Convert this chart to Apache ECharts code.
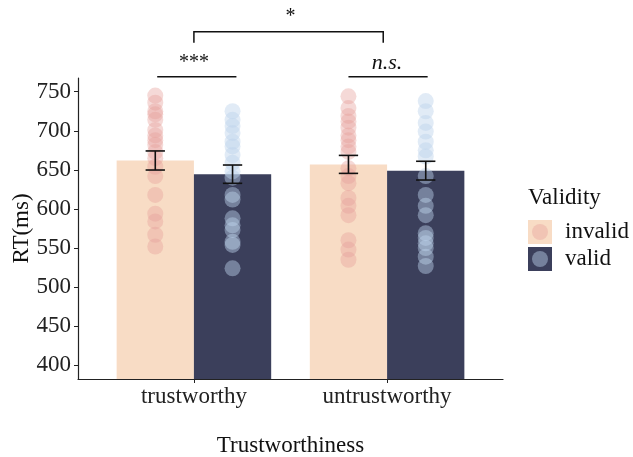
<!DOCTYPE html>
<html>
<head>
<meta charset="utf-8">
<script src="https://cdn.jsdelivr.net/npm/echarts@6/dist/echarts.min.js"></script>
<style>
html,body{margin:0;padding:0;background:#fff;}
#main{width:633px;height:457px;}
</style>
</head>
<body>
<div id="main"></div>
<script>
var categories = ['trustworthy', 'untrustworthy'];
var catPos = [1, 2];
var groups = ['invalid', 'valid'];

var meanInvalid = [662, 657];
var meanValid = [644.5, 649];
var seInvalid = [12.2, 11.5];
var seValid = [11.7, 12];

// individual RTs
var rtTrustInvalid = [745, 736, 725, 721, 714, 701, 694, 688, 682, 673, 665, 654, 642, 618, 594, 584, 567, 552];
var rtTrustValid = [725, 714, 706, 697, 686, 680, 669, 659, 648, 640, 618, 612, 588, 579, 573, 558, 554, 524];
var rtUntrustInvalid = [744, 729, 719, 712, 704, 694, 688, 680, 673, 652, 642, 633, 614, 604, 592, 560, 548, 535];
var rtUntrustValid = [738, 725, 710, 699, 686, 675, 667, 642, 618, 604, 592, 569, 563, 556, 550, 539, 527];

var yTicks = [400, 450, 500, 550, 600, 650, 700, 750];

var COLOR = {
	BAR_INVALID: '#F8DCC5',
	BAR_VALID: '#3B3F5B',
	DOT_INVALID: '#E6A09B',
	DOT_VALID: '#BDD3EC'
};
var FONT = 'Liberation Serif';
var yMin = 382.5, yMax = 767.5;
var dodge = 0.2;

function barData(means, side){
	var out = [];
	for (var i = 0; i < catPos.length; i++) out.push([catPos[i] + side * dodge, means[i]]);
	return out;
}
function errData(means, se, side){
	var out = [];
	for (var i = 0; i < catPos.length; i++) out.push([catPos[i] + side * dodge, means[i] - se[i], means[i] + se[i]]);
	return out;
}
function dotData(x, vals){
	return vals.map(function(v){ return [x, v]; });
}

function renderBar(params, api){
	var x = api.value(0), v = api.value(1);
	var lt = api.coord([x - dodge, v]);
	var rb = api.coord([x + dodge, yMin]);
	return {
		type: 'rect',
		shape: {x: lt[0], y: lt[1], width: rb[0] - lt[0], height: rb[1] - lt[1]},
		style: {fill: api.visual('color')}
	};
}

function renderErr(params, api){
	var x = api.value(0);
	var lo = api.coord([x, api.value(1)]);
	var hi = api.coord([x, api.value(2)]);
	var half = api.size([0.05, 0])[0];
	var st = {stroke: '#111', lineWidth: 1.6};
	return {
		type: 'group',
		children: [
			{type: 'line', shape: {x1: lo[0], y1: lo[1], x2: hi[0], y2: hi[1]}, style: st},
			{type: 'line', shape: {x1: lo[0] - half, y1: lo[1], x2: lo[0] + half, y2: lo[1]}, style: st},
			{type: 'line', shape: {x1: hi[0] - half, y1: hi[1], x2: hi[0] + half, y2: hi[1]}, style: st}
		]
	};
}

var myChart = echarts.init(document.getElementById('main'));
myChart.setOption({
	animation: false,
	textStyle: {fontFamily: FONT},
	title: {
		text: 'Validity',
		left: 528,
		top: 186,
		padding: 0,
		textStyle: {fontFamily: FONT, fontSize: 23, fontWeight: 'normal', color: '#111'}
	},
	legend: [
		{
			orient: 'vertical',
			left: 528,
			top: 220,
			padding: 0,
			icon: 'rect',
			itemWidth: 24,
			itemHeight: 24,
			itemGap: 3,
			selectedMode: false,
			textStyle: {fontFamily: FONT, fontSize: 23, color: '#111', padding: [0, 0, 0, 8]},
			data: [
				{name: 'invalid', itemStyle: {color: COLOR.BAR_INVALID}},
				{name: 'valid', itemStyle: {color: COLOR.BAR_VALID}}
			]
		},
		{
			orient: 'vertical',
			left: 532,
			top: 224,
			padding: 0,
			icon: 'circle',
			itemWidth: 16,
			itemHeight: 16,
			itemGap: 11,
			selectedMode: false,
			formatter: function(){ return ''; },
			textStyle: {fontSize: 8},
			data: [
				{name: 'invalid', itemStyle: {color: COLOR.DOT_INVALID, opacity: 0.4}},
				{name: 'valid', itemStyle: {color: COLOR.DOT_VALID, opacity: 0.45}}
			]
		}
	],
	grid: {left: 78, right: 130, top: 78, bottom: 78, containLabel: false, outerBoundsMode: 'none'},
	xAxis: {
		type: 'value',
		min: 0.4,
		max: 2.6,
		name: 'Trustworthiness',
		nameLocation: 'middle',
		nameGap: 55,
		nameMoveOverlap: false,
		nameTextStyle: {fontFamily: FONT, fontSize: 23, color: '#111'},
		axisLine: {show: true, lineStyle: {color: '#222', width: 1.2}},
		axisTick: {show: true, length: 4, customValues: catPos, lineStyle: {color: '#222'}},
		axisLabel: {
			customValues: catPos,
			margin: 6,
			fontFamily: FONT,
			fontSize: 23,
			color: '#222',
			formatter: function(v){ return categories[catPos.indexOf(v)] || ''; }
		},
		splitLine: {show: false}
	},
	yAxis: {
		type: 'value',
		min: yMin,
		max: yMax,
		name: 'RT(ms)',
		nameLocation: 'middle',
		nameGap: 45,
		nameMoveOverlap: false,
		nameTextStyle: {fontFamily: FONT, fontSize: 23, color: '#111'},
		axisLine: {show: true, lineStyle: {color: '#222', width: 1.2}},
		axisTick: {show: true, length: 4, customValues: yTicks, lineStyle: {color: '#222'}},
		axisLabel: {customValues: yTicks, margin: 7, fontFamily: FONT, fontSize: 23, color: '#222'},
		splitLine: {show: false}
	},
	series: [
		{name: 'invalid', type: 'custom', renderItem: renderBar, itemStyle: {color: COLOR.BAR_INVALID}, data: barData(meanInvalid, -1), z: 1},
		{name: 'valid', type: 'custom', renderItem: renderBar, itemStyle: {color: COLOR.BAR_VALID}, data: barData(meanValid, 1), z: 1},
		{name: 'invalid', type: 'scatter', symbolSize: 16, itemStyle: {color: COLOR.DOT_INVALID, opacity: 0.4},
			data: dotData(catPos[0] - dodge, rtTrustInvalid).concat(dotData(catPos[1] - dodge, rtUntrustInvalid)), z: 2},
		{name: 'valid', type: 'scatter', symbolSize: 16, itemStyle: {color: COLOR.DOT_VALID, opacity: 0.45},
			data: dotData(catPos[0] + dodge, rtTrustValid).concat(dotData(catPos[1] + dodge, rtUntrustValid)), z: 2},
		{name: 'se', type: 'custom', renderItem: renderErr, data: errData(meanInvalid, seInvalid, -1).concat(errData(meanValid, seValid, 1)), z: 3}
	]
});

// significance marks, placed in data coordinates
function px(x, y){ return myChart.convertToPixel({gridIndex: 0}, [x, y]); }
var lineSt = {stroke: '#111', lineWidth: 1.5};
var a1 = px(0.81, 769), a2 = px(1.22, 769);
var b1 = px(1.8, 769), b2 = px(2.21, 769);
var c1 = px(1.0, 812.7), c2 = px(1.0, 826.8), c3 = px(1.98, 826.8), c4 = px(1.98, 812.7);
var t1 = px(1.0, 787), t2 = px(2.0, 787), t3 = px(1.5, 846);
myChart.setOption({
	graphic: [
		{type: 'line', shape: {x1: a1[0], y1: a1[1], x2: a2[0], y2: a2[1]}, style: lineSt},
		{type: 'line', shape: {x1: b1[0], y1: b1[1], x2: b2[0], y2: b2[1]}, style: lineSt},
		{type: 'polyline', shape: {points: [c1, c2, c3, c4]}, style: {stroke: '#111', lineWidth: 1.5, fill: null}},
		{type: 'text', x: t1[0], y: t1[1], style: {text: '***', fontFamily: FONT, fontSize: 20, fill: '#111', align: 'center', verticalAlign: 'middle'}},
		{type: 'text', x: t2[0], y: t2[1], style: {text: 'n.s.', fontFamily: FONT, fontSize: 22, fontStyle: 'italic', fill: '#111', align: 'center', verticalAlign: 'middle'}},
		{type: 'text', x: t3[0], y: t3[1], style: {text: '*', fontFamily: FONT, fontSize: 20, fill: '#111', align: 'center', verticalAlign: 'middle'}}
	]
});
</script>
</body>
</html>
